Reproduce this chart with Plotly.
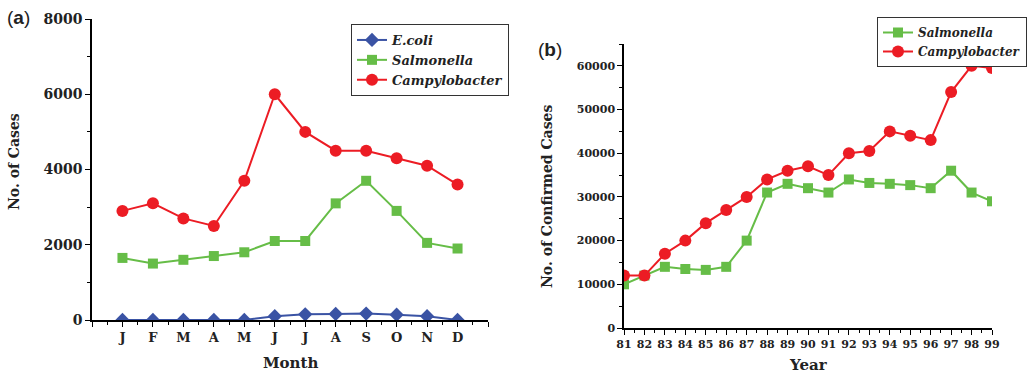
import plotly.graph_objects as go

# ---- Data ----
months = ["J", "F", "M", "A", "M", "J", "J", "A", "S", "O", "N", "D"]
month_pos = list(range(1, 13))
ecoli_month = [0, 0, 0, 0, 0, 100, 150, 160, 170, 140, 100, 0]
salmonella_month = [1650, 1500, 1600, 1700, 1800, 2100, 2100, 3100, 3700, 2900, 2050, 1900]
campylo_month = [2900, 3100, 2700, 2500, 3700, 6000, 5000, 4500, 4500, 4300, 4100, 3600]

years = list(range(81, 100))
salmonella_year = [10000, 12000, 14000, 13500, 13300, 14000, 20000, 31000, 33000, 32000,
                   31000, 34000, 33200, 33000, 32700, 32000, 36000, 31000, 29000]
campylo_year = [12000, 12000, 17000, 20000, 24000, 27000, 30000, 34000, 36000, 37000,
                35000, 40000, 40500, 45000, 44000, 43000, 54000, 60000, 59500]

W, H = 1029, 374
def px(x):
    return x / W
def py(y):
    return 1 - y / H

BLUE = "#3A53A4"
GREEN = "#66BD47"
RED = "#EC1C24"
SERIF = "DejaVu Serif"

fig = go.Figure()

# Panel (a)
fig.add_trace(go.Scatter(x=month_pos, y=ecoli_month, mode="lines+markers", name="<i>E.coli</i>",
                         line=dict(color=BLUE, width=2),
                         marker=dict(symbol="diamond", size=11, color=BLUE),
                         xaxis="x", yaxis="y", legend="legend"))
fig.add_trace(go.Scatter(x=month_pos, y=salmonella_month, mode="lines+markers", name="<i>Salmonella</i>",
                         line=dict(color=GREEN, width=2),
                         marker=dict(symbol="square", size=10, color=GREEN),
                         xaxis="x", yaxis="y", legend="legend"))
fig.add_trace(go.Scatter(x=month_pos, y=campylo_month, mode="lines+markers", name="<i>Campylobacter</i>",
                         line=dict(color=RED, width=2),
                         marker=dict(symbol="circle", size=12, color=RED),
                         xaxis="x", yaxis="y", legend="legend"))

# Panel (b)
fig.add_trace(go.Scatter(x=years, y=salmonella_year, mode="lines+markers", name="<i>Salmonella</i>",
                         line=dict(color=GREEN, width=2),
                         marker=dict(symbol="square", size=10, color=GREEN),
                         xaxis="x2", yaxis="y2", legend="legend2"))
fig.add_trace(go.Scatter(x=years, y=campylo_year, mode="lines+markers", name="<i>Campylobacter</i>",
                         line=dict(color=RED, width=2),
                         marker=dict(symbol="circle", size=12, color=RED),
                         xaxis="x2", yaxis="y2", legend="legend2"))

axis_common = dict(showline=True, linecolor="black", linewidth=1.5, showgrid=False,
                   zeroline=False, ticks="outside", tickcolor="black", tickwidth=1.2,
                   mirror=False, automargin=False)

fig.update_layout(
    width=W, height=H,
    margin=dict(l=0, r=0, t=0, b=0, autoexpand=False),
    paper_bgcolor="white", plot_bgcolor="white",
    showlegend=True,
    xaxis=dict(domain=[px(92), px(488)], range=[0, 13], anchor="y",
               tickmode="array", tickvals=list(range(0, 14)),
               ticktext=[""] + months + [""], ticklen=5,
               minor=dict(tickmode="linear", tick0=0, dtick=0.5, ticklen=3, ticks="outside",
                          tickcolor="black", tickwidth=1),
               tickfont=dict(family=SERIF, size=13, color="#222"),
               **axis_common),
    yaxis=dict(domain=[1 - 320 / H, 1 - 19 / H], range=[0, 8000], anchor="x",
               tickmode="linear", tick0=0, dtick=2000, ticklen=5, tickformat="d",
               minor=dict(tickmode="linear", tick0=0, dtick=1000, ticklen=3, ticks="outside",
                          tickcolor="black", tickwidth=1),
               tickfont=dict(family=SERIF, size=14, color="#222"),
               **axis_common),
    xaxis2=dict(domain=[px(624), px(992)], range=[81, 99], anchor="y2",
                tickmode="linear", tick0=81, dtick=1, ticklen=5,
                minor=dict(tickmode="linear", tick0=81, dtick=0.5, ticklen=3, ticks="outside",
                           tickcolor="black", tickwidth=1),
                tickfont=dict(family=SERIF, size=11, color="#222"),
                **axis_common),
    yaxis2=dict(domain=[1 - 328 / H, 1 - 44 / H], range=[0, 65000], anchor="x2",
                tickmode="linear", tick0=0, dtick=10000, ticklen=5, tickformat="d",
                minor=dict(tickmode="linear", tick0=0, dtick=5000, ticklen=3, ticks="outside",
                           tickcolor="black", tickwidth=1),
                tickfont=dict(family=SERIF, size=11, color="#222"),
                **axis_common),
    legend=dict(x=px(351), y=py(24), xanchor="left", yanchor="top",
                bordercolor="#333", borderwidth=1, bgcolor="white",
                font=dict(family=SERIF, size=13, color="#222", weight="bold"),
                tracegroupgap=0, itemwidth=30),
    legend2=dict(x=px(1027), y=py(17), xanchor="right", yanchor="top",
                 bordercolor="#333", borderwidth=1, bgcolor="white",
                 font=dict(family=SERIF, size=12, color="#222", weight="bold"),
                 tracegroupgap=0, itemwidth=30),
)

ann = [
    dict(text="(<b>a</b>)", x=px(5), y=py(18), xanchor="left", yanchor="middle",
         font=dict(family="Liberation Sans", size=19, color="#222")),
    dict(text="(<b>b</b>)", x=px(536), y=py(50), xanchor="left", yanchor="middle",
         font=dict(family="Liberation Sans", size=19, color="#222")),
    dict(text="<b>No. of Cases</b>", x=px(14), y=py(162), textangle=-90,
         xanchor="center", yanchor="middle",
         font=dict(family=SERIF, size=14, color="#222")),
    dict(text="<b>Month</b>", x=px(290), y=py(363), xanchor="center", yanchor="middle",
         font=dict(family=SERIF, size=15, color="#222")),
    dict(text="<b>No. of Confirmed Cases</b>", x=px(547), y=py(197), textangle=-90,
         xanchor="center", yanchor="middle",
         font=dict(family=SERIF, size=14, color="#222")),
    dict(text="<b>Year</b>", x=px(808), y=py(365), xanchor="center", yanchor="middle",
         font=dict(family=SERIF, size=15, color="#222")),
]
for a in ann:
    a.update(xref="paper", yref="paper", showarrow=False)
fig.update_layout(annotations=ann)

fig.update_xaxes(tickfont_weight="bold")
fig.update_yaxes(tickfont_weight="bold")

fig.write_html("out.html", config={"displayModeBar": False},
               post_script="document.body.style.margin='0';document.body.style.padding='0';")
